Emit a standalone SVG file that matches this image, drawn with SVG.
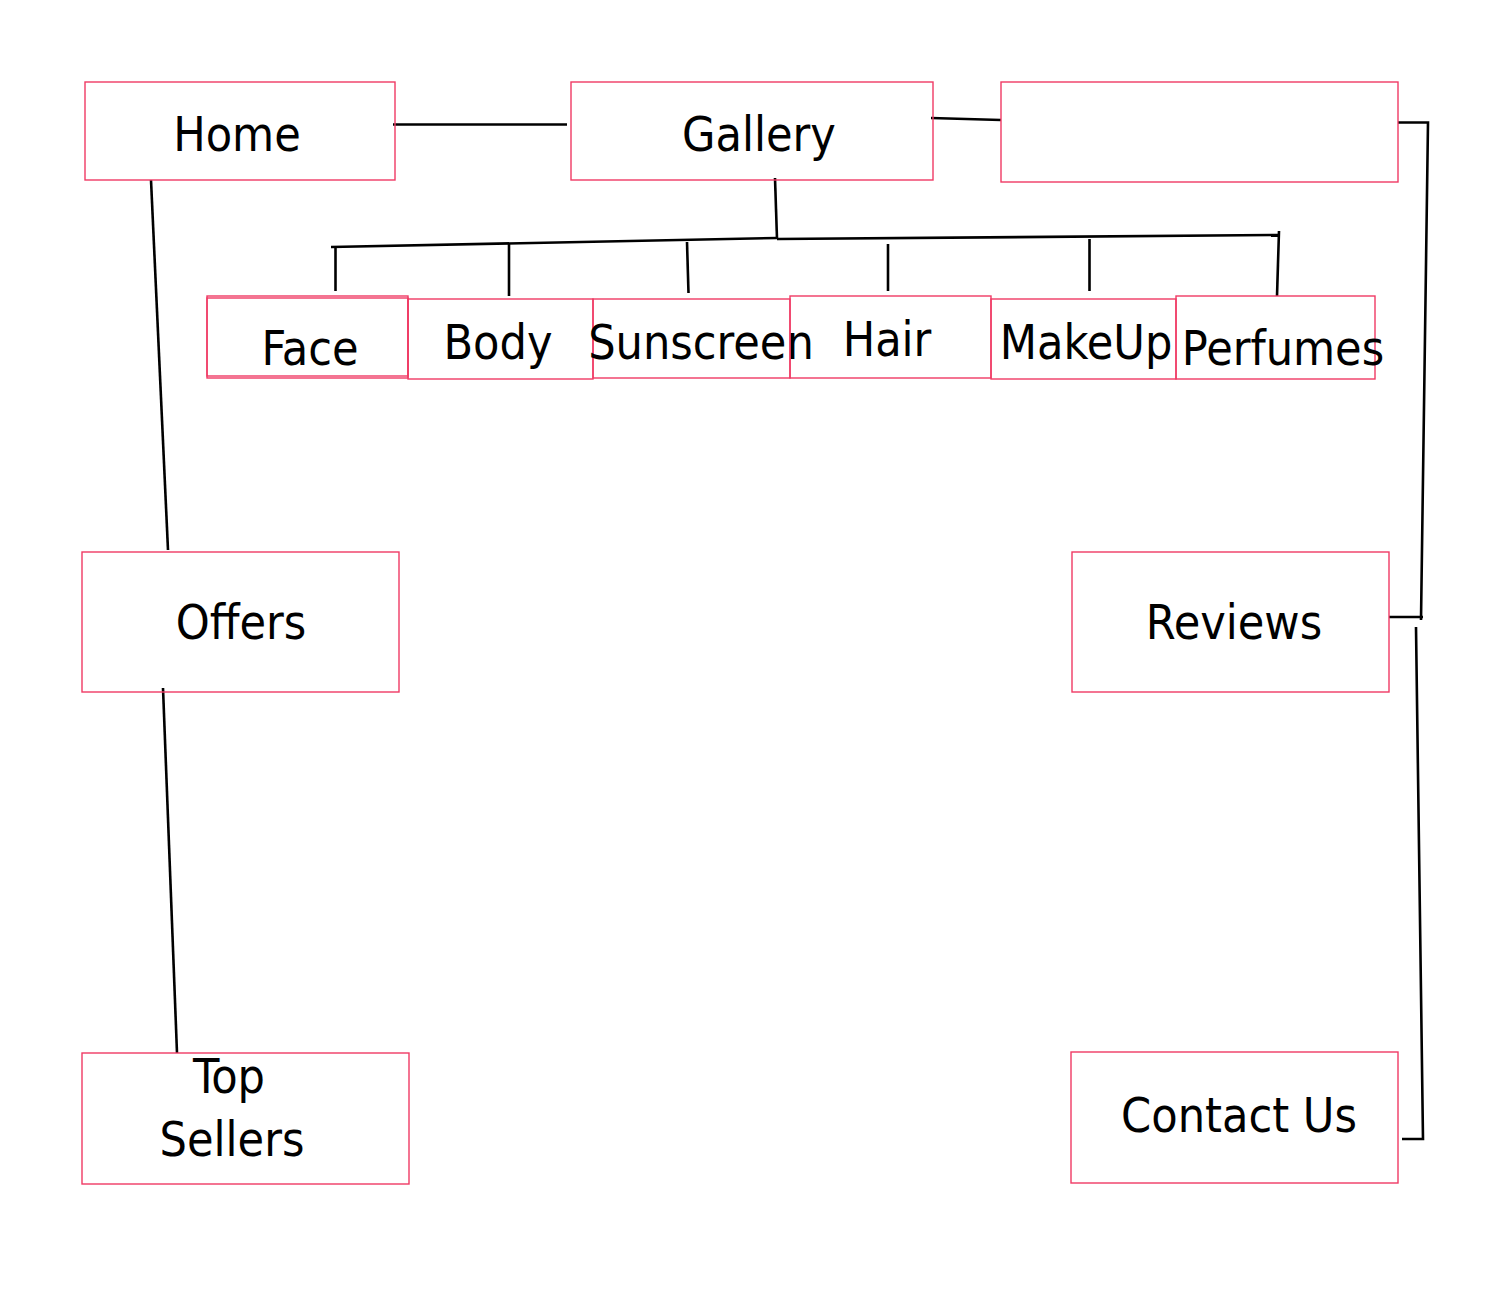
<svg xmlns="http://www.w3.org/2000/svg" width="1488" height="1298" viewBox="0 0 1488 1298">
<style>
.box{fill:none;stroke:#f03a64;stroke-width:1.4}
.t{font-family:"DejaVu Sans Condensed","DejaVu Sans","Liberation Sans",sans-serif;font-size:48px;fill:#000;text-anchor:middle}
.c{fill:none;stroke:#000;stroke-width:2.6;stroke-linecap:butt;stroke-linejoin:miter}
</style>
<rect width="1488" height="1298" fill="#fff"/>
<g id="connectors">
<path class="c" d="M393 124.5H567"/>
<path class="c" d="M931 118L1001 120"/>
<path class="c" d="M1398 122.5H1428L1421 620"/>
<path class="c" d="M1389 617H1423"/>
<path class="c" d="M1416 627L1423 1139H1402"/>
<path class="c" d="M151 180L168 550"/>
<path class="c" d="M163 688L177 1053"/>
<path class="c" d="M775 178L777 239"/>
<path class="c" d="M331 247L777 238"/>
<path class="c" d="M777 239L1279 235"/>
<path class="c" d="M1279 231L1277 296"/>
<path class="c" d="M335.5 247V291"/>
<path class="c" d="M509 244V296"/>
<path class="c" d="M687 242L688.5 293"/>
<path class="c" d="M888 244V291"/>
<path class="c" d="M1089.5 239V291"/>
</g>
<g id="home"><rect class="box" x="85" y="82" width="310" height="98"/><text class="t" x="237" y="151">Home</text></g>
<g id="gallery"><rect class="box" x="571" y="82" width="362" height="98"/><text class="t" x="759" y="151">Gallery</text></g>
<g id="blank"><rect class="box" x="1001" y="82" width="397" height="100"/></g>
<g id="face"><rect class="box" x="207" y="296" width="201" height="82"/><rect class="box" x="207" y="298" width="201" height="78"/><text class="t" x="310" y="365">Face</text></g>
<g id="body"><rect class="box" x="408" y="299" width="185" height="80"/><text class="t" x="498" y="359">Body</text></g>
<g id="sunscreen"><rect class="box" x="593" y="299" width="197" height="79"/><text class="t" x="701" y="359">Sunscreen</text></g>
<g id="hair"><rect class="box" x="790" y="296" width="201" height="82"/><text class="t" x="887" y="356">Hair</text></g>
<g id="makeup"><rect class="box" x="991" y="299" width="185" height="80"/><text class="t" x="1086" y="359">MakeUp</text></g>
<g id="perfumes"><rect class="box" x="1176" y="296" width="199" height="83"/><text class="t" x="1283" y="365">Perfumes</text></g>
<g id="offers"><rect class="box" x="82" y="552" width="317" height="140"/><text class="t" x="241" y="639">Offers</text></g>
<g id="reviews"><rect class="box" x="1072" y="552" width="317" height="140"/><text class="t" x="1234" y="639">Reviews</text></g>
<g id="topsellers"><rect class="box" x="82" y="1053" width="327" height="131"/><text class="t" x="229" y="1093">Top</text><text class="t" x="232" y="1156">Sellers</text></g>
<g id="contact"><rect class="box" x="1071" y="1052" width="327" height="131"/><text class="t" x="1239" y="1132">Contact Us</text></g>
</svg>
